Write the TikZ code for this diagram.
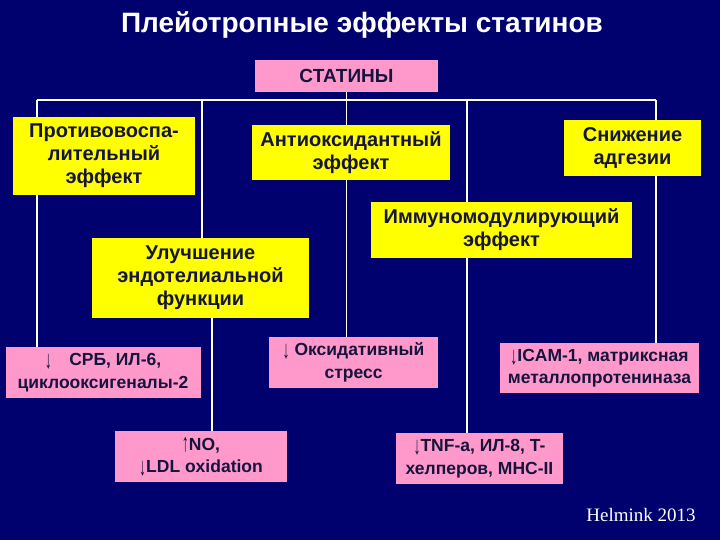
\documentclass[tikz,border=0pt]{standalone}
\usepackage{fontspec}
\setmainfont{Liberation Sans}
\newfontfamily\refsfont{Liberation Serif}
\usepackage{xcolor}
\usepackage{graphicx}
\usepackage{tikz}

\definecolor{slidebg}{RGB}{0,0,110}
\definecolor{boxyellow}{RGB}{255,255,0}
\definecolor{boxpink}{RGB}{255,153,204}
\definecolor{boxtext}{RGB}{20,20,60}

\newcommand{\arrdn}{\raisebox{-3pt}{\scalebox{0.8}[1.45]{\mdseries ↓}}}
\newcommand{\arrup}{\raisebox{-1pt}{\scalebox{0.8}[1.45]{\mdseries ↑}}}

\begin{document}
\begin{tikzpicture}[x=1pt, y=-1pt,
  effect/.style={fill=boxyellow, text=boxtext, align=center, inner sep=0pt,
    font=\fontsize{20}{23}\selectfont\bfseries},
  marker/.style={fill=boxpink, text=boxtext, align=center, inner sep=0pt,
    font=\fontsize{17.5}{22.5}\selectfont\bfseries},
  link/.style={white, line width=1.6pt}]
\useasboundingbox (0,0) rectangle (720,540);
\fill[slidebg] (0,0) rectangle (720,540);

% Title
\node[text=white, font=\fontsize{28}{32}\selectfont\bfseries] (title) at (362,25) {Плейотропные эффекты статинов};
\node[marker, font=\fontsize{19}{22}\selectfont\bfseries, minimum width=183pt, minimum height=32pt] (statins) at (346.5,76) {СТАТИНЫ};

% Effects
\node[effect, minimum width=182pt, minimum height=78pt] (antiinfl) at (104,156) {Противовоспа-\\лительный\\эффект};
\node[effect, minimum width=198pt, minimum height=55pt] (antiox) at (351,152.5) {Антиоксидантный\\эффект};
\node[effect, minimum width=137pt, minimum height=56pt] (adhes) at (632.5,148) {Снижение\\адгезии};
\node[effect, minimum width=261pt, minimum height=56pt] (immuno) at (501.5,230) {Иммуномодулирующий\\эффект};
\node[effect, minimum width=217pt, minimum height=80pt] (endo) at (200.5,278) {Улучшение\\эндотелиальной\\функции};

% Markers
\node[marker, minimum width=195pt, minimum height=51pt] (crp) at (103,372.5) {\arrdn\quad СРБ, ИЛ-6,\\циклооксигеналы-2};
\node[marker, minimum width=169pt, minimum height=51pt] (oxstress) at (353.5,362.5) {\arrdn\ Оксидативный\\стресс};
\node[marker, minimum width=199pt, minimum height=50pt] (icam) at (599.5,368) {\arrdn ICAM-1, матриксная\\металлопротениназа};
\node[marker, minimum width=172pt, minimum height=51pt] (nolde) at (201,456.5) {\arrup NO,\\\arrdn LDL oxidation};
\node[marker, minimum width=167pt, minimum height=51pt] (tnf) at (479.5,458.5) {\arrdn TNF-a, ИЛ-8, T-\\хелперов, MHC-II};

\node[text=white, font=\refsfont\fontsize{19}{22}\selectfont] (source) at (641,515) {Helmink 2013};

% Tree
\coordinate (busL) at (37,100);
\coordinate (busR) at (656,100);
\coordinate (dropE) at (202,100);
\coordinate (dropI) at (467,100);
\draw[link] (busL) -- (busR);
\draw[link] (statins.south) -- (statins.south |- antiox.north);
\draw[link] (busL) -- (busL |- antiinfl.north);
\draw[link] (busR) -- (busR |- adhes.north);
\draw[link] (dropE) -- (dropE |- endo.north);
\draw[link] (dropI) -- (dropI |- immuno.north);

\draw[link] (busL |- antiinfl.south) -- (busL |- crp.north);
\draw[link] (statins.south |- antiox.south) -- (statins.south |- oxstress.north);
\draw[link] (busR |- adhes.south) -- (busR |- icam.north);
\draw[link] (dropI |- immuno.south) -- (dropI |- tnf.north);
\draw[link] ([xshift=11.5pt]endo.south) -- ([xshift=11.5pt]endo.south |- nolde.north);
\end{tikzpicture}
\end{document}
